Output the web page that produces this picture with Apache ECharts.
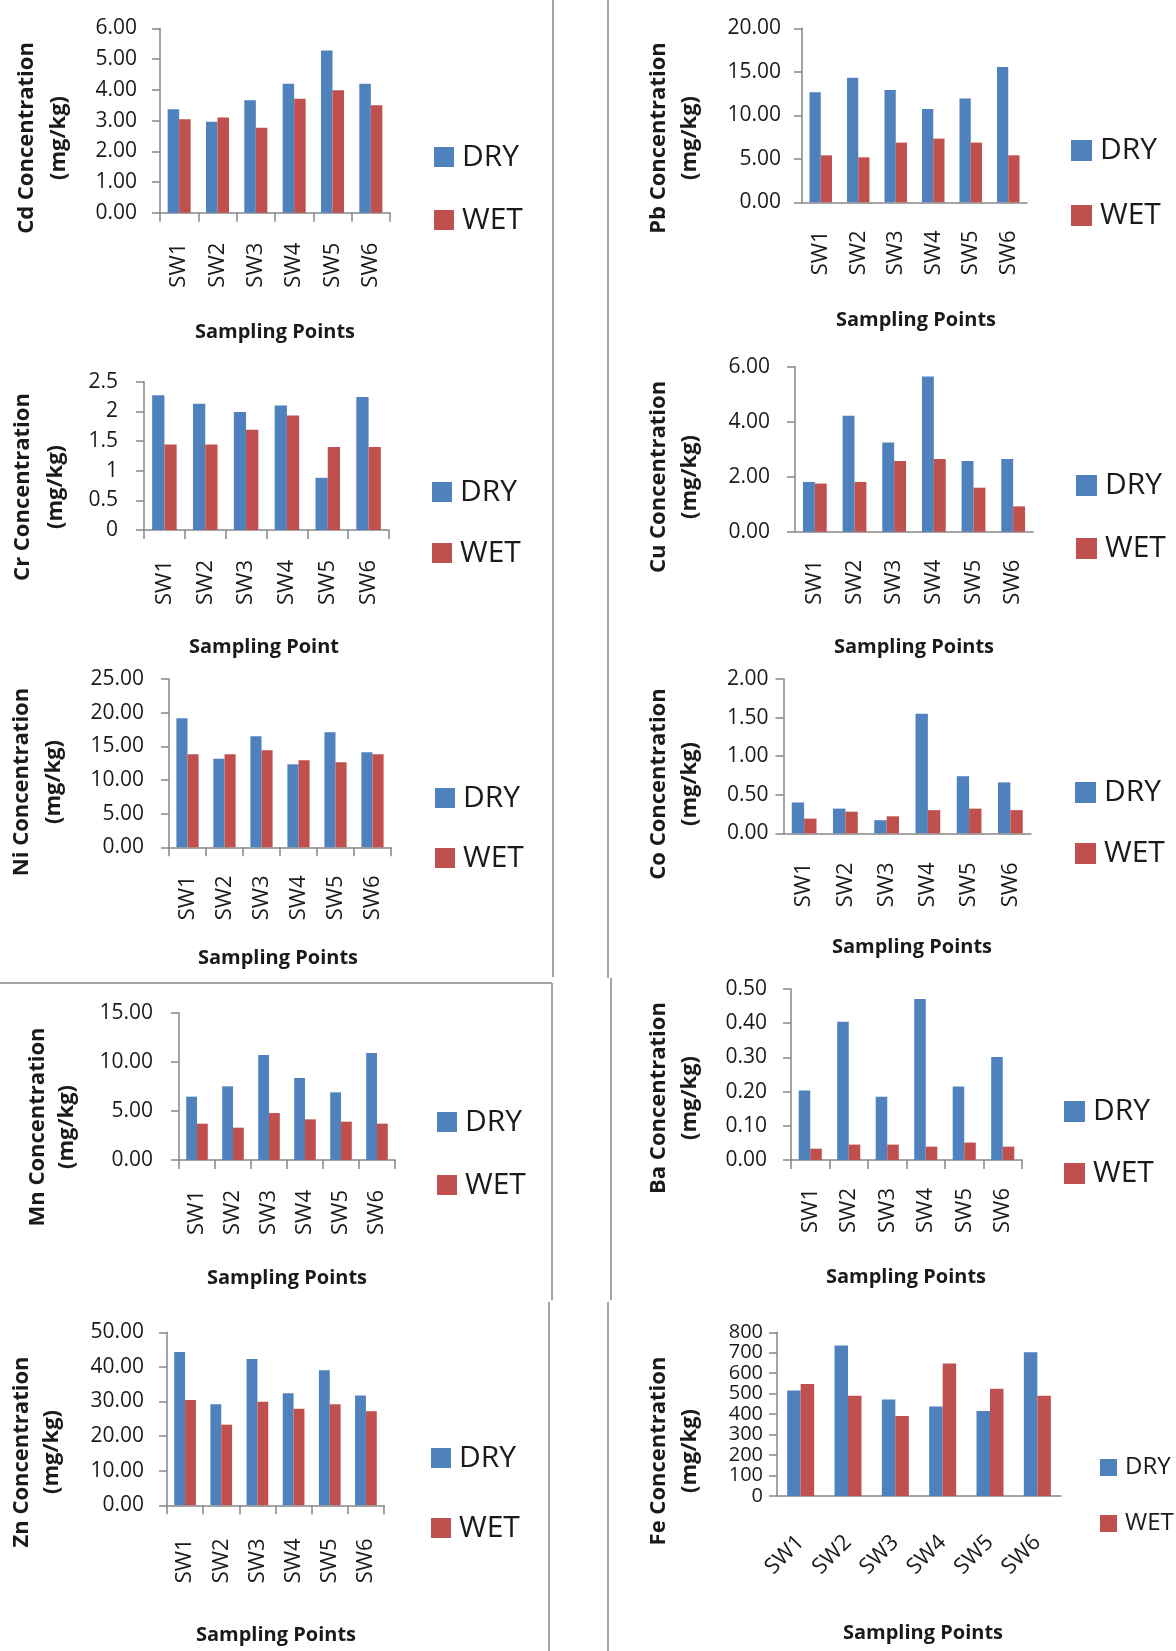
<!DOCTYPE html>
<html><head><meta charset="utf-8">
<script src="https://cdn.jsdelivr.net/npm/echarts@6/dist/echarts.min.js"></script>
<style>html,body{margin:0;padding:0;background:#fff}#c{width:1176px;height:1651px}</style>
</head><body><div id="c"></div><script>
// ---------- DATA ----------
const categories = ['SW1', 'SW2', 'SW3', 'SW4', 'SW5', 'SW6'];
const seriesNames = ['DRY', 'WET'];

const cdDry = [3.37, 2.96, 3.66, 4.20, 5.28, 4.20];
const cdWet = [3.04, 3.10, 2.77, 3.71, 3.99, 3.50];
const pbDry = [12.64, 14.33, 12.91, 10.73, 11.92, 15.56];
const pbWet = [5.40, 5.17, 6.86, 7.32, 6.86, 5.40];
const crDry = [2.27, 2.13, 1.99, 2.10, 0.88, 2.24];
const crWet = [1.44, 1.44, 1.69, 1.93, 1.40, 1.40];
const cuDry = [1.81, 4.22, 3.24, 5.64, 2.57, 2.64];
const cuWet = [1.75, 1.81, 2.57, 2.64, 1.60, 0.92];
const niDry = [19.16, 13.17, 16.49, 12.33, 17.08, 14.11];
const niWet = [13.81, 13.81, 14.41, 12.92, 12.62, 13.81];
const coDry = [0.40, 0.32, 0.17, 1.55, 0.74, 0.66];
const coWet = [0.19, 0.28, 0.22, 0.30, 0.32, 0.30];
const mnDry = [6.45, 7.50, 10.69, 8.35, 6.89, 10.89];
const mnWet = [3.70, 3.29, 4.78, 4.14, 3.90, 3.70];
const baDry = [0.203, 0.404, 0.185, 0.471, 0.215, 0.301];
const baWet = [0.033, 0.045, 0.045, 0.039, 0.051, 0.039];
const znDry = [44.3, 29.2, 42.3, 32.4, 39.0, 31.7];
const znWet = [30.4, 23.3, 29.9, 27.9, 29.2, 27.2];
const feDry = [515, 736, 471, 437, 415, 702];
const feWet = [547, 490, 391, 648, 524, 490];

const cdTicks = ['0.00', '1.00', '2.00', '3.00', '4.00', '5.00', '6.00'];
const pbTicks = ['0.00', '5.00', '10.00', '15.00', '20.00'];
const crTicks = ['0', '0.5', '1', '1.5', '2', '2.5'];
const cuTicks = ['0.00', '2.00', '4.00', '6.00'];
const niTicks = ['0.00', '5.00', '10.00', '15.00', '20.00', '25.00'];
const coTicks = ['0.00', '0.50', '1.00', '1.50', '2.00'];
const mnTicks = ['0.00', '5.00', '10.00', '15.00'];
const baTicks = ['0.00', '0.10', '0.20', '0.30', '0.40', '0.50'];
const znTicks = ['0.00', '10.00', '20.00', '30.00', '40.00', '50.00'];
const feTicks = ['0', '100', '200', '300', '400', '500', '600', '700', '800'];

const cdTitle = 'Cd Concentration', pbTitle = 'Pb Concentration', crTitle = 'Cr Concentration',
      cuTitle = 'Cu Concentration', niTitle = 'Ni Concentration', coTitle = 'Co Concentration',
      mnTitle = 'Mn Concentration', baTitle = 'Ba Concentration', znTitle = 'Zn Concentration',
      feTitle = 'Fe Concentration';
const unitTitle = '(mg/kg)';
const xTitle = 'Sampling Points';
const xTitleCr = 'Sampling Point';

// ---------- PANELS (data refs + layout) ----------
const panels = [
  {dry: cdDry, wet: cdWet, ticks: cdTicks, max: 6, step: 1, title: cdTitle, xt: xTitle,
   grid: [160, 28.5, 230, 184.2], lm: 23, yfs: 21, xTick: true, rot: 90, xm: 30,
   t: [27, 59, 138], xtp: [275, 332], lg: [434, 147, 210, 20, 30]},
  {dry: pbDry, wet: pbWet, ticks: pbTicks, max: 20, step: 5, title: pbTitle, xt: xTitle,
   grid: [802, 28.3, 225, 174], lm: 21, yfs: 21, xTick: false, rot: 90, xm: 28,
   t: [659, 690, 138], xtp: [916, 320], lg: [1071, 140, 205, 21, 30]},
  {dry: crDry, wet: crWet, ticks: crTicks, max: 2.5, step: 0.5, title: crTitle, xt: xTitleCr,
   grid: [144, 381.7, 245, 148.3], lm: 26, yfs: 21, xTick: true, rot: 90, xm: 30,
   t: [23, 56, 487], xtp: [264, 647], lg: [432, 482, 543, 20, 30]},
  {dry: cuDry, wet: cuWet, ticks: cuTicks, max: 6, step: 2, title: cuTitle, xt: xTitle,
   grid: [795, 366.7, 238, 165], lm: 25, yfs: 21, xTick: false, rot: 90, xm: 28,
   t: [659, 690, 477], xtp: [914, 647], lg: [1076, 475, 538, 21, 30]},
  {dry: niDry, wet: niWet, ticks: niTicks, max: 25, step: 5, title: niTitle, xt: xTitle,
   grid: [169, 679, 222, 168.3], lm: 25, yfs: 21, xTick: true, rot: 90, xm: 28,
   t: [22, 54, 782], xtp: [278, 958], lg: [435, 788, 848, 20, 30]},
  {dry: coDry, wet: coWet, ticks: coTicks, max: 2, step: 0.5, title: coTitle, xt: xTitle,
   grid: [783.5, 679, 247.5, 154.3], lm: 15, yfs: 21, xTick: false, rot: 90, xm: 29,
   t: [659, 690, 784], xtp: [912, 947], lg: [1075, 782, 843, 21, 30]},
  {dry: mnDry, wet: mnWet, ticks: mnTicks, max: 15, step: 5, title: mnTitle, xt: xTitle,
   grid: [179, 1012.7, 216, 147.3], lm: 26, yfs: 21, xTick: true, rot: 90, xm: 30,
   t: [38, 67, 1127], xtp: [287, 1278], lg: [437, 1112, 1175, 20, 30]},
  {dry: baDry, wet: baWet, ticks: baTicks, max: 0.5, step: 0.1, title: baTitle, xt: xTitle,
   grid: [791, 989, 231, 171], lm: 24, yfs: 21, xTick: true, rot: 90, xm: 28,
   t: [659, 690, 1098], xtp: [906, 1277], lg: [1064, 1101, 1163, 21, 30]},
  {dry: znDry, wet: znWet, ticks: znTicks, max: 50, step: 10, title: znTitle, xt: xTitle,
   grid: [167, 1332.3, 217, 173], lm: 23, yfs: 21, xTick: true, rot: 90, xm: 33,
   t: [22, 52, 1452], xtp: [276, 1635], lg: [431, 1448, 1518, 20, 30]},
  {dry: feDry, wet: feWet, ticks: feTicks, max: 800, step: 100, title: feTitle, xt: xTitle,
   grid: [777, 1332.3, 284, 163.7], lm: 14, yfs: 20, xTick: false, rot: 45, xm: 43,
   t: [659, 690, 1451], xtp: [923, 1633], lg: [1100, 1459, 1515, 17, 24]}
];

const FONT = "'Open Sans', 'Noto Sans', sans-serif";
const BLUE = '#4F81BD', RED = '#C0504D', AXIS = '#868686', TXT = '#1a1a1a', BORDER = '#a3a3a3';

const grids = [], xAxes = [], yAxes = [], series = [], legends = [], graphics = [];

panels.forEach((p, i) => {
  grids.push({left: p.grid[0], top: p.grid[1], width: p.grid[2], height: p.grid[3],
              containLabel: false, outerBoundsMode: 'none'});
  xAxes.push({
    type: 'category', gridIndex: i, data: categories,
    axisLine: {show: true, lineStyle: {color: AXIS, width: 1.5}},
    axisTick: {show: p.xTick, length: 9, lineStyle: {color: AXIS, width: 1.5}},
    axisLabel: {rotate: p.rot, margin: p.xm, fontSize: 22, color: TXT, fontFamily: FONT,
                interval: 0, hideOverlap: false},
    splitLine: {show: false}
  });
  const tk = p.ticks, st = p.step;
  yAxes.push({
    type: 'value', gridIndex: i, min: 0, max: p.max, interval: st,
    axisLine: {show: true, lineStyle: {color: AXIS, width: 1.5}},
    axisTick: {show: true, length: 8, lineStyle: {color: AXIS, width: 1.5}},
    axisLabel: {margin: p.lm, fontSize: p.yfs, color: TXT, fontFamily: FONT,
      showMinLabel: true, showMaxLabel: true, hideOverlap: false,
      formatter: v => tk[Math.round(v / st)]},
    splitLine: {show: false}
  });
  const gap = p.rot === 45 ? '43%' : '40%';
  series.push({type: 'bar', name: seriesNames[0], xAxisIndex: i, yAxisIndex: i, data: p.dry,
    itemStyle: {color: BLUE}, barGap: '0%', barCategoryGap: gap, animation: false});
  series.push({type: 'bar', name: seriesNames[1], xAxisIndex: i, yAxisIndex: i, data: p.wet,
    itemStyle: {color: RED}, barGap: '0%', barCategoryGap: gap, animation: false});

  const [lx, dTop, wTop, sz, fs] = p.lg;
  legends.push({
    orient: 'vertical', left: lx, top: dTop - (fs - sz) / 2, padding: 0,
    itemWidth: sz, itemHeight: sz, itemGap: (wTop - dTop) - fs, icon: 'rect',
    selectedMode: false, data: seriesNames,
    textStyle: {fontSize: fs, lineHeight: fs, color: TXT, fontFamily: FONT, padding: [0, 0, 0, 3]}
  });

  graphics.push({type: 'text', x: p.t[0], y: p.t[2], rotation: Math.PI / 2,
    style: {text: p.title, fontSize: 22, fontWeight: 'bold', fontFamily: FONT, fill: TXT,
            align: 'center', verticalAlign: 'middle', textAlign: 'center', textVerticalAlign: 'middle'}});
  graphics.push({type: 'text', x: p.t[1], y: p.t[2], rotation: Math.PI / 2,
    style: {text: unitTitle, fontSize: 22, fontWeight: 'bold', fontFamily: FONT, fill: TXT,
            align: 'center', verticalAlign: 'middle', textAlign: 'center', textVerticalAlign: 'middle'}});
  graphics.push({type: 'text', x: p.xtp[0], y: p.xtp[1],
    style: {text: p.xt, fontSize: 20, fontWeight: 'bold', fontFamily: FONT, fill: TXT,
            align: 'center', verticalAlign: 'middle', textAlign: 'center', textVerticalAlign: 'middle'}});
});

// panel border lines
const borderSegs = [
  [553, 0, 553, 977], [0, 983, 552, 983], [552, 983, 552, 1300], [549, 1302, 549, 1651],
  [608, 0, 608, 978], [611, 978, 611, 1300], [608, 1302, 608, 1651]
];
borderSegs.forEach(s => graphics.push({type: 'line', shape: {x1: s[0], y1: s[1], x2: s[2], y2: s[3]},
  style: {stroke: BORDER, lineWidth: 2}, silent: true}));

const chart = echarts.init(document.getElementById('c'), null, {renderer: 'canvas'});
chart.setOption({
  animation: false,
  backgroundColor: '#fff',
  grid: grids, xAxis: xAxes, yAxis: yAxes, series: series, legend: legends,
  graphic: {elements: graphics}
});
</script></body></html>
